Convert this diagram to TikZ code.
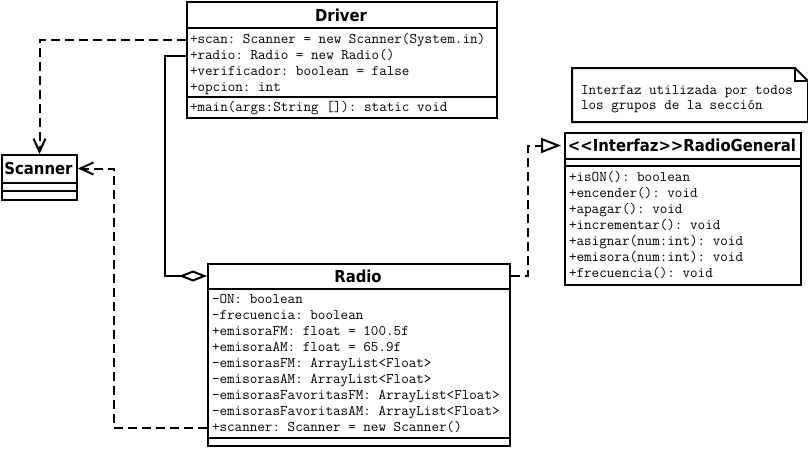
\documentclass[tikz,border=0pt]{standalone}
\usepackage{fontspec}
\newfontfamily\titlefont{DejaVu Sans Condensed Bold}
\usetikzlibrary{arrows.meta}
\frenchspacing

\begin{document}
\begin{tikzpicture}[x=1pt,y=-1pt,line width=2pt,
  classbox/.style={draw,anchor=north west,inner sep=0pt},
  classtitle/.style={inner sep=0pt,font=\titlefont\fontsize{16.5}{19}\selectfont},
  member/.style={anchor=west,inner sep=0pt,text height=9pt,text depth=3pt,font=\ttfamily\fontsize{14.7}{17}\selectfont},
  usa/.style={dash pattern=on 9pt off 5pt,-{Straight Barb[length=13pt,width=12pt]}},
  agrega/.style={-{Diamond[open,length=28pt,width=11pt]}},
  implementa/.style={dash pattern=on 9pt off 5pt,-{Triangle[open,length=20pt,width=15pt]},shorten >=3pt}]

  \useasboundingbox (0,0) rectangle (808,448);

  % Driver
  \node[classbox,minimum width=310pt,minimum height=116pt] (driver) at (186,1) {};
  \node[classtitle] (driverT) at (341,15) {Driver};
  \draw (driver.west |- 0,28) -- (driver.east |- 0,28);
  \draw (driver.west |- 0,97) -- (driver.east |- 0,97);
  \node[member] (dScan) at (189,40) {+scan: Scanner = new Scanner(System.in)};
  \node[member] (dRadio) at (189,56) {+radio: Radio = new Radio()};
  \node[member] (dVerif) at (189,72) {+verificador: boolean = false};
  \node[member] (dOpcion) at (189,88) {+opcion: int};
  \node[member] (dMain) at (189,108) {+main(args:String []): static void};

  % Scanner
  \node[classbox,minimum width=75pt,minimum height=45pt] (scanner) at (1,154) {};
  \node[classtitle] (scannerT) at (38.5,168.5) {Scanner};
  \draw (scanner.west |- 0,183) -- (scanner.east |- 0,183);
  \draw (scanner.west |- 0,191) -- (scanner.east |- 0,191);

  % nota
  \node[minimum width=234pt,minimum height=52pt,anchor=north west,inner sep=0pt] (note) at (572,68) {};
  \draw (note.north west) -- ([xshift=-13pt]note.north east) -- ([yshift=-13pt]note.north east)
    -- (note.south east) -- (note.south west) -- cycle;
  \draw ([xshift=-13pt]note.north east) -- ([xshift=-13pt,yshift=-13pt]note.north east)
    -- ([yshift=-13pt]note.north east);
  \node[member] (noteA) at (580,91) {Interfaz utilizada por todos};
  \node[member] (noteB) at (580,106) {los grupos de la sección};

  % RadioGeneral
  \node[classbox,minimum width=236pt,minimum height=152pt] (rgen) at (564,132) {};
  \node[classtitle] (rgenT) at (682,145.5) {<{}<Interfaz>{}>RadioGeneral};
  \draw (rgen.west |- 0,159) -- (rgen.east |- 0,159);
  \draw (rgen.west |- 0,166) -- (rgen.east |- 0,166);
  \node[member] (gOn) at (568,178) {+isON(): boolean};
  \node[member] (gEnc) at (568,194) {+encender(): void};
  \node[member] (gApa) at (568,210) {+apagar(): void};
  \node[member] (gInc) at (568,226) {+incrementar(): void};
  \node[member] (gAsi) at (568,242) {+asignar(num:int): void};
  \node[member] (gEmi) at (568,258) {+emisora(num:int): void};
  \node[member] (gFrec) at (568,274) {+frecuencia(): void};

  % Radio
  \node[classbox,minimum width=302pt,minimum height=182pt] (radio) at (207,263) {};
  \node[classtitle] (radioT) at (358,276) {Radio};
  \draw (radio.west |- 0,289) -- (radio.east |- 0,289);
  \draw (radio.west |- 0,438) -- (radio.east |- 0,438);
  \node[member] (rOn) at (211,300) {-ON: boolean};
  \node[member] (rFrec) at (211,316) {-frecuencia: boolean};
  \node[member] (rFM) at (211,332) {+emisoraFM: float = 100.5f};
  \node[member] (rAM) at (211,348) {+emisoraAM: float = 65.9f};
  \node[member] (rListFM) at (211,364) {-emisorasFM: ArrayList<Float>};
  \node[member] (rListAM) at (211,380) {-emisorasAM: ArrayList<Float>};
  \node[member] (rFavFM) at (211,396) {-emisorasFavoritasFM: ArrayList<Float>};
  \node[member] (rFavAM) at (211,412) {-emisorasFavoritasAM: ArrayList<Float>};
  \node[member] (rScanner) at (211,428) {+scanner: Scanner = new Scanner()};

  % relaciones
  \draw[usa] (driver.west |- dScan.center) -| (scanner.north);
  \draw[agrega] (driver.west |- dRadio.center) -- ++(-21,0) |- (radio.west |- radioT.center);
  \draw[usa] (radio.west |- rScanner.center) -- ++(-93,0) |- (scanner.east |- scannerT.center);
  \draw[implementa] (radio.east |- radioT.center) -- ++(17,0) |- (rgen.west |- rgenT.center);
\end{tikzpicture}
\end{document}
